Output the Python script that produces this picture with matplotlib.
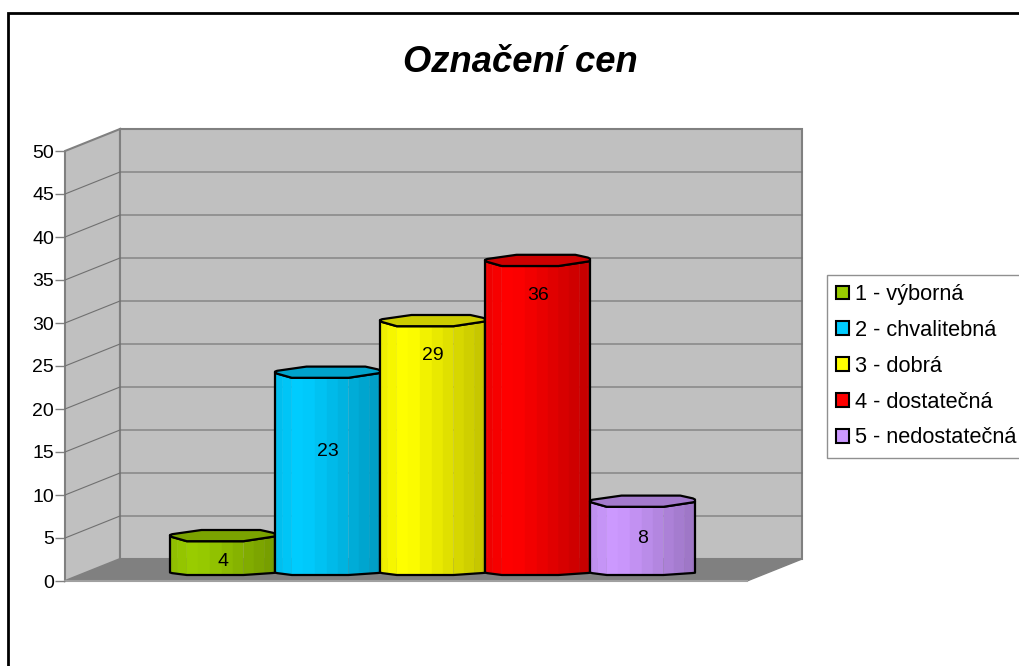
import numpy as np
import matplotlib
matplotlib.use('Agg')
import matplotlib.pyplot as plt
from matplotlib.patches import Patch, Polygon, Rectangle

title = 'Označení cen'
categories = ['1 - výborná', '2 - chvalitebná', '3 - dobrá', '4 - dostatečná', '5 - nedostatečná']
values = [4, 23, 29, 36, 8]
label_heights = [2.3, 15.1, 26.2, 33.2, 4.9]
y_ticks = [0, 5, 10, 15, 20, 25, 30, 35, 40, 45, 50]
colors = ['#99CC00', '#00CCFF', '#FFFF00', '#FF0000', '#CC99FF']

plt.rcParams['font.family'] = ['Liberation Sans', 'DejaVu Sans']

W, H = 1020, 666
fig = plt.figure(figsize=(W / 100, H / 100), dpi=100)

# front plane of the 3d box, px from the reference
left, right, bottom, top = 65, 747, 581, 151
ax = fig.add_axes([left / W, 1 - bottom / H, (right - left) / W, (bottom - top) / H])
ax.set_xlim((left - 222.5) / 105, (right - 222.5) / 105)
ax.set_ylim(0, 50)
ax.set_xticks([])
ax.set_yticks(y_ticks)
ax.tick_params(axis='y', labelsize=14, length=7, width=1, color='#808080', pad=1)
for s in ax.spines.values():
    s.set_visible(False)
ax.patch.set_visible(False)

# depth of the box in data units
px = 1 / 8.6
dx = 55 / 105
dy = 22 * px
x0, x1 = ax.get_xlim()

ax.add_patch(Polygon([(x0, 0), (x0 + dx, dy), (x1 + dx, dy), (x1, 0)], fc='#808080', ec='#808080', lw=1, clip_on=False, zorder=1))
ax.add_patch(Polygon([(x0, 0), (x0 + dx, dy), (x0 + dx, 50 + dy), (x0, 50)], fc='#C0C0C0', ec='#808080', lw=1.5, clip_on=False, zorder=1))
ax.add_patch(Rectangle((x0 + dx, dy), x1 - x0, 50, fc='#C0C0C0', ec='#808080', lw=1.5, clip_on=False, zorder=1))
ax.plot([x0, x1], [0, 0], color='#A0A0A0', lw=1.5, clip_on=False, zorder=1)
for t in y_ticks[1:-1]:
    ax.plot([x0, x0 + dx, x1 + dx], [t, t + dy, t + dy], color='#707070', lw=0.8, clip_on=False, zorder=2)

# bars: faceted prisms, front and back edges of the cap are skewed like the reference
fx = np.array([0, 0.02, 0.07, 0.16, 0.27, 0.38, 0.5, 0.6, 0.7, 0.8, 0.9, 0.98, 1])
mid = (fx[:-1] + fx[1:]) / 2
shade = np.interp(mid, [0, 0.2, 0.35, 1], [0.92, 1.0, 0.98, 0.76])
profile = np.interp(fx, [0, 0.02, 0.16, 0.7, 0.98, 1], [0, 0.25, 1, 1, 0.2, 0.1])
back_x = np.array([0, 0.02, 0.3, 0.86, 0.98, 1])
back = np.array([0.1, 0.25, 1, 1, 0.5, 0.3]) * 5.6 * px
base_top = 11 * px
for i, (v, c) in enumerate(zip(values, colors)):
    rgb = np.array(matplotlib.colors.to_rgb(c))
    xs = i - 0.5 + fx
    y_low = (8.5 - 2.5 * profile) * px
    y_high = base_top + v - profile * 5.6 * px
    for k in range(len(shade)):
        ax.add_patch(Polygon([(xs[k], y_low[k]), (xs[k + 1], y_low[k + 1]), (xs[k + 1], y_high[k + 1]), (xs[k], y_high[k])],
                             fc=rgb * shade[k], ec=rgb * shade[k], lw=0.3, zorder=3 + i))
    outline = list(zip(xs, y_low)) + list(zip(xs[::-1], y_high[::-1]))
    ax.add_patch(Polygon(outline, fc='none', ec='black', lw=1.6, joinstyle='round', zorder=3.5 + i))
    # top cap
    cap = list(zip(xs, y_high)) + list(zip(i - 0.5 + back_x[::-1], (base_top + v + back)[::-1]))
    ax.add_patch(Polygon(cap, fc=rgb * 0.8, ec='black', lw=1.6, joinstyle='round', zorder=3.6 + i))
    ax.text(i + 0.003, label_heights[i], str(v), ha='center', va='center', fontsize=14, color='black', zorder=20)

fig.text(520 / W, 1 - 63 / H, title, ha='center', va='center', fontsize=26.2, fontweight='bold', fontstyle='italic')

handles = [Patch(fc=c, ec='black', lw=1.5) for c in colors]
leg = fig.legend(handles, categories, loc='upper left', bbox_to_anchor=(827 / W, 1 - 275 / H), fontsize=15.7,
                 frameon=True, fancybox=False, edgecolor='#909090', framealpha=1, borderaxespad=0,
                 handlelength=0.6, handleheight=0.6, handletextpad=0.28, labelspacing=0.68, borderpad=0.42)
leg.get_frame().set_linewidth(1)

# chart border, cropped by the picture on the right and at the bottom
fig.add_artist(Rectangle((8 / W, -0.1), 1.1, 1.1 - 13 / H, transform=fig.transFigure, fc='none', ec='black', lw=2))

fig.savefig('out.png', dpi=100)
